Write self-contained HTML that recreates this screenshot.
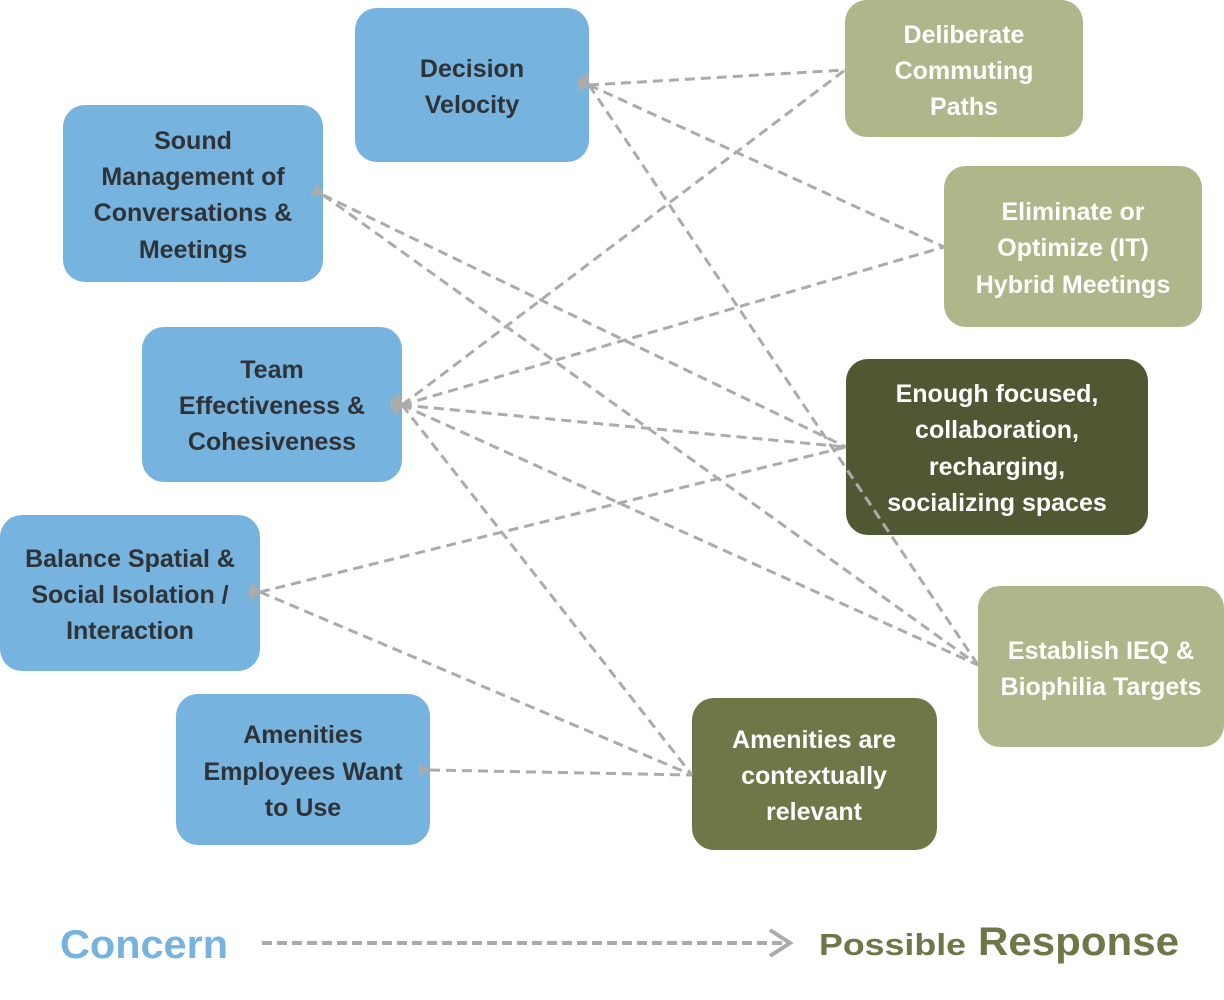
<!DOCTYPE html>
<html><head><meta charset="utf-8"><style>
html,body{margin:0;padding:0;background:#fff;}
svg{display:block;}
text{font-family:"Liberation Sans",sans-serif;font-weight:bold;}
</style></head><body>
<svg width="1224" height="1000" viewBox="0 0 1224 1000" xmlns="http://www.w3.org/2000/svg">
<defs>
<marker id="ah" viewBox="0 0 10 10" refX="1" refY="5" markerWidth="4" markerHeight="4" orient="auto-start-reverse">
<path d="M0,5 L10,0 L10,10 Z" fill="#ababab"/>
</marker>
</defs>
<!-- boxes -->
<g fill="#76B3DE">
<rect x="355" y="8" width="234" height="154" rx="22"/>
<rect x="63" y="105" width="260" height="177" rx="22"/>
<rect x="142" y="327" width="260" height="155" rx="22"/>
<rect x="0" y="515" width="260" height="156" rx="22"/>
<rect x="176" y="694" width="254" height="151" rx="22"/>
</g>
<rect x="845" y="0" width="238" height="137" rx="22" fill="#AEB68A"/>
<rect x="944" y="166" width="258" height="161" rx="22" fill="#AEB68A"/>
<rect x="846" y="359" width="302" height="176" rx="22" fill="#4F5833"/>
<rect x="978" y="586" width="246" height="161" rx="22" fill="#AEB68A"/>
<rect x="692" y="698" width="245" height="152" rx="22" fill="#6E7748"/>
<!-- connectors -->
<g stroke="#ababab" stroke-width="3" stroke-dasharray="10,6" fill="none" marker-start="url(#ah)">
<line x1="589" y1="85" x2="845" y2="70"/>
<line x1="589" y1="85" x2="944" y2="247"/>
<line x1="589" y1="85" x2="978" y2="665"/>
<line x1="323" y1="195" x2="846" y2="447"/>
<line x1="323" y1="195" x2="978" y2="665"/>
<line x1="402" y1="405" x2="845" y2="70"/>
<line x1="402" y1="405" x2="944" y2="247"/>
<line x1="402" y1="405" x2="846" y2="447"/>
<line x1="402" y1="405" x2="978" y2="665"/>
<line x1="402" y1="405" x2="692" y2="775"/>
<line x1="260" y1="592" x2="846" y2="447"/>
<line x1="260" y1="592" x2="692" y2="775"/>
<line x1="430" y1="770" x2="692" y2="775"/>
</g>
<!-- labels -->
<g font-size="25" fill="#2f3337" text-anchor="middle">
<text x="472" y="77">Decision</text>
<text x="472" y="113">Velocity</text>
<text x="193" y="149">Sound</text>
<text x="193" y="185">Management of</text>
<text x="193" y="221">Conversations &amp;</text>
<text x="193" y="258">Meetings</text>
<text x="272" y="378">Team</text>
<text x="272" y="414">Effectiveness &amp;</text>
<text x="272" y="450">Cohesiveness</text>
<text x="130" y="567">Balance Spatial &amp;</text>
<text x="130" y="603">Social Isolation /</text>
<text x="130" y="639">Interaction</text>
<text x="303" y="743">Amenities</text>
<text x="303" y="780">Employees Want</text>
<text x="303" y="816">to Use</text>
</g>
<g font-size="25" fill="#ffffff" text-anchor="middle">
<text x="964" y="43">Deliberate</text>
<text x="964" y="79">Commuting</text>
<text x="964" y="115">Paths</text>
<text x="1073" y="220">Eliminate or</text>
<text x="1073" y="256">Optimize (IT)</text>
<text x="1073" y="293">Hybrid Meetings</text>
<text x="997" y="402">Enough focused,</text>
<text x="997" y="438">collaboration,</text>
<text x="997" y="475">recharging,</text>
<text x="997" y="511">socializing spaces</text>
<text x="1101" y="659">Establish IEQ &amp;</text>
<text x="1101" y="695">Biophilia Targets</text>
<text x="814" y="748">Amenities are</text>
<text x="814" y="784">contextually</text>
<text x="814" y="820">relevant</text>
</g>
<!-- legend -->
<text x="60" y="958" font-size="40" fill="#76B3DE" textLength="168" lengthAdjust="spacingAndGlyphs">Concern</text>
<line x1="262" y1="943" x2="785" y2="943" stroke="#ababab" stroke-width="4" stroke-dasharray="10,5"/>
<path d="M770,930 L790,943 L770,956" stroke="#ababab" stroke-width="4" fill="none"/>
<text x="819" y="955" font-size="31" fill="#6E7748" textLength="147" lengthAdjust="spacingAndGlyphs">Possible</text>
<text x="978" y="955" font-size="40" fill="#6E7748" textLength="201" lengthAdjust="spacingAndGlyphs">Response</text>
</svg>
</body></html>
